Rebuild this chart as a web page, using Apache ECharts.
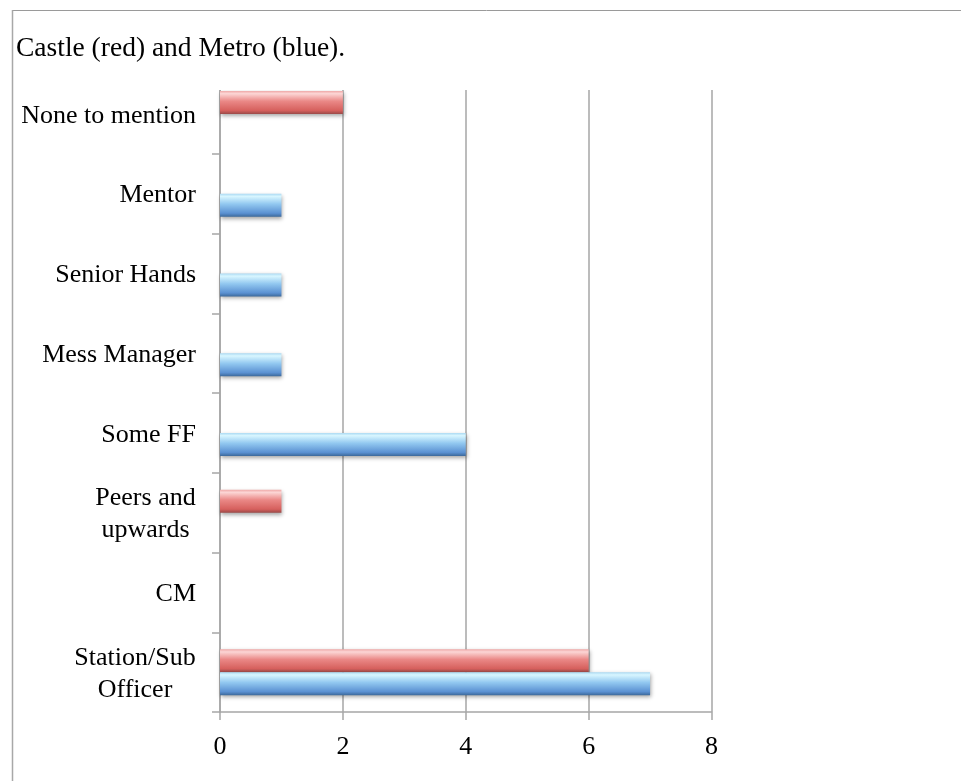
<!DOCTYPE html>
<html>
<head>
<meta charset="utf-8">
<script src="https://cdn.jsdelivr.net/npm/echarts@6/dist/echarts.min.js"></script>
<style>
  html, body { margin: 0; padding: 0; background: #fff; }
  #chart { width: 961px; height: 781px; }
</style>
</head>
<body>
<div id="chart"></div>
<script>
// categories bottom -> top
const categories = ['Station/Sub\nOfficer', 'CM', 'Peers and\nupwards', 'Some FF',
  'Mess Manager', 'Senior Hands', 'Mentor', 'None to mention'];
const castle = [6, 0, 1, 0, 0, 0, 0, 2];   // red
const metro = [7, 0, 0, 4, 1, 1, 1, 0];    // blue
const xTicks = [0, 2, 4, 6, 8];

const FONT = '"Liberation Serif", "Times New Roman", serif';
const gridColor = '#a6a6a6';

// centre the lines of the two-line labels inside their own block
const ctx = document.createElement('canvas').getContext('2d');
ctx.font = '26px ' + FONT;
let rich = {};
let keys = {};
categories.forEach(function (c, i) {
  if (c.indexOf('\n') < 0) return;
  let w = 0;
  c.split('\n').forEach(function (l) { w = Math.max(w, ctx.measureText(l).width); });
  keys[c] = 'm' + i;
  rich['m' + i] = { width: Math.ceil(w), align: 'center', fontSize: 26, fontFamily: FONT, color: '#000', lineHeight: 32 };
});

function barGradient(stops) {
  return new echarts.graphic.LinearGradient(0, 0, 0, 1, [
    { offset: 0, color: stops[0] },
    { offset: 0.12, color: stops[1] },
    { offset: 0.45, color: stops[2] },
    { offset: 0.85, color: stops[3] },
    { offset: 1, color: stops[4] }
  ]);
}

let chart = echarts.init(document.getElementById('chart'), null, {renderer: 'canvas'});
let option;

option = {
  animation: false,
  title: {
    text: 'Castle (red) and Metro (blue).',
    left: 11,
    top: 30,
    textStyle: { fontFamily: FONT, fontSize: 27.5, fontWeight: 'normal', color: '#000' }
  },
  grid: { left: 220, right: 249.5, top: 74, bottom: 69, containLabel: false },
  xAxis: {
    type: 'value',
    min: xTicks[0],
    max: xTicks[xTicks.length - 1],
    interval: 2,
    axisLine: { show: true, lineStyle: { color: gridColor, width: 1.5 } },
    axisTick: { show: true, length: 8, lineStyle: { color: gridColor, width: 1.5 } },
    axisLabel: { margin: 22, fontFamily: FONT, fontSize: 26, color: '#000' },
    splitLine: { show: true, lineStyle: { color: gridColor, width: 1.5 } }
  },
  yAxis: {
    type: 'category',
    data: categories,
    axisLine: { show: true, lineStyle: { color: gridColor, width: 1.5 } },
    axisTick: { show: true, length: 8, lineStyle: { color: gridColor, width: 1.5 } },
    axisLabel: {
      margin: 24,
      fontFamily: FONT,
      fontSize: 26,
      color: '#000',
      lineHeight: 32,
      padding: [4, 0, 0, 0],
      formatter: function (v) {
        if (!keys[v]) return v;
        return v.split('\n').map(function (l) { return '{' + keys[v] + '|' + l + '}'; }).join('\n');
      },
      rich: rich
    },
    splitLine: { show: false }
  },
  series: [
    {
      name: 'Castle',
      type: 'bar',
      data: castle,
      barWidth: 23,
      barGap: '0%',
      itemStyle: {
        color: barGradient(['#eea6a5', '#fcd6d5', '#ea8886', '#d6605d', '#9c4a48']),
        shadowColor: 'rgba(0,0,0,0.35)',
        shadowBlur: 4,
        shadowOffsetX: 1,
        shadowOffsetY: 2
      }
    },
    {
      name: 'Metro',
      type: 'bar',
      data: metro,
      barWidth: 23,
      barGap: '0%',
      itemStyle: {
        color: barGradient(['#a9d8f2', '#d8f6ff', '#92c8f0', '#5b91d2', '#3d6a9c']),
        shadowColor: 'rgba(0,0,0,0.35)',
        shadowBlur: 4,
        shadowOffsetX: 1,
        shadowOffsetY: 2
      }
    }
  ],
  graphic: [
    // the source image is cut off just above the plot
    { type: 'rect', z: 100, shape: { x: 205, y: 67, width: 520, height: 23 }, style: { fill: '#fff' } },
    { type: 'line', z: 101, shape: { x1: 12, y1: 10.5, x2: 961, y2: 10.5 }, style: { stroke: '#9a9a9a', lineWidth: 1 } },
    { type: 'line', z: 101, shape: { x1: 12.5, y1: 10, x2: 12.5, y2: 781 }, style: { stroke: '#a8a8a8', lineWidth: 1.5 } }
  ]
};

chart.setOption(option);
window.addEventListener('resize', function () {
  chart.resize();
});
</script>
</body>
</html>
